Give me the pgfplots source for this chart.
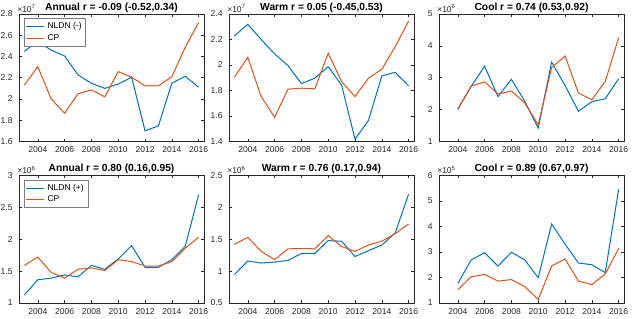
\documentclass[border=0pt]{standalone}
\usepackage{fontspec}
\setmainfont{Liberation Sans}
\usepackage{pgfplots}
\pgfplotsset{compat=1.18}
\definecolor{mblue}{rgb}{0,0.447,0.741}
\definecolor{morange}{rgb}{0.85,0.325,0.098}
\definecolor{axgray}{rgb}{0.15,0.15,0.15}
\tikzset{
  sclabel/.style={font=\fontsize{6.4}{7}\selectfont, text=axgray, anchor=south west, inner sep=0pt, xshift=-1.5pt, yshift=1.2pt},
}
\pgfplotsset{
  every axis title shift=0pt,
  mstyle/.style={
    scale only axis, width=138.75pt, height=95.6pt,
    xmin=2002.6, xmax=2016.4,
    xtick={2004,2006,...,2016},
    /pgf/number format/assume math mode=true,
    /pgf/number format/1000 sep={},
    tick align=inside,
    major tick length=2pt,
    tick style={axgray, line width=0.4pt},
    axis line style={axgray, line width=0.4pt},
    tick label style={font=\fontsize{6.4}{7}\selectfont, text=axgray},
    yticklabel style={xshift=-1.3pt},
    xticklabel style={yshift=-0.5pt},
    title style={font=\fontsize{7.7}{8.5}\selectfont\bfseries, at={(0.5,1)}, anchor=south, inner sep=1.2pt},
    every axis plot/.append style={line width=0.75pt, no marks},
    legend cell align=left,
    legend image code/.code={\draw[##1] (0pt,0pt) -- (14pt,0pt);},
    legend style={at={(rel axis cs:0.025,0.965)}, anchor=north west, draw=axgray!60, line width=0.4pt,
      font=\fontsize{6.4}{7}\selectfont, inner sep=1pt, row sep=-1.5pt, fill=white},
  },
  sc/.style={extra description/.code={\node[sclabel] at (rel axis cs:0,1) {×10\textsuperscript{#1}};}},
}
\begin{document}
\begin{tikzpicture}
\path[use as bounding box] (0,0) rectangle (474pt,238.5pt);
% ---------- Row 1 ----------
\begin{axis}[mstyle, sc=7, at={(14.25pt,132.4pt)}, anchor=south west,
  ymin=1.6, ymax=2.8, ytick={1.6,1.8,2,2.2,2.4,2.6,2.8},
  yticklabels={1.6,1.8,2,2.2,2.4,2.6,2.8},
  title={Annual r = -0.09 (-0.52,0.34)}]
\addplot[mblue] coordinates {(2003,2.45)(2004,2.54)(2005,2.46)(2006,2.405)(2007,2.227)(2008,2.148)(2009,2.10)(2010,2.14)(2011,2.205)(2012,1.70)(2013,1.747)(2014,2.148)(2015,2.214)(2016,2.11)};
\addlegendentry{NLDN (-)}
\addplot[morange] coordinates {(2003,2.13)(2004,2.305)(2005,2.0)(2006,1.866)(2007,2.048)(2008,2.086)(2009,2.02)(2010,2.258)(2011,2.205)(2012,2.123)(2013,2.123)(2014,2.21)(2015,2.487)(2016,2.72)};
\addlegendentry{CP}
\end{axis}
\begin{axis}[mstyle, sc=7, at={(171.75pt,132.4pt)}, anchor=south west,
  ymin=1.4, ymax=2.4, ytick={1.4,1.6,1.8,2,2.2,2.4},
  yticklabels={1.4,1.6,1.8,2,2.2,2.4},
  title={Warm r = 0.05 (-0.45,0.53)}]
\addplot[mblue] coordinates {(2003,2.228)(2004,2.319)(2005,2.20)(2006,2.087)(2007,1.995)(2008,1.854)(2009,1.896)(2010,1.987)(2011,1.841)(2012,1.418)(2013,1.564)(2014,1.914)(2015,1.943)(2016,1.836)};
\addplot[morange] coordinates {(2003,1.904)(2004,2.06)(2005,1.752)(2006,1.59)(2007,1.81)(2008,1.818)(2009,1.813)(2010,2.092)(2011,1.87)(2012,1.752)(2013,1.896)(2014,1.967)(2015,2.144)(2016,2.345)};
\end{axis}
\begin{axis}[mstyle, sc=6, at={(329.25pt,132.4pt)}, anchor=south west,
  ymin=1, ymax=5, ytick={1,2,3,4,5},
  title={Cool r = 0.74 (0.53,0.92)}]
\addplot[mblue] coordinates {(2004,2.0)(2005,2.73)(2006,3.36)(2007,2.41)(2008,2.95)(2009,2.26)(2010,1.42)(2011,3.49)(2012,2.76)(2013,1.95)(2014,2.25)(2015,2.34)(2016,2.97)};
\addplot[morange] coordinates {(2004,2.02)(2005,2.74)(2006,2.87)(2007,2.49)(2008,2.58)(2009,2.21)(2010,1.52)(2011,3.32)(2012,3.68)(2013,2.52)(2014,2.31)(2015,2.88)(2016,4.26)};
\end{axis}
% ---------- Row 2 ----------
\begin{axis}[mstyle, sc=6, at={(14.25pt,11.25pt)}, anchor=south west,
  ymin=1, ymax=3, ytick={1,1.5,2,2.5,3},
  yticklabels={1,1.5,2,2.5,3},
  title={Annual r = 0.80 (0.16,0.95)}]
\addplot[mblue] coordinates {(2003,1.125)(2004,1.365)(2005,1.39)(2006,1.44)(2007,1.41)(2008,1.59)(2009,1.53)(2010,1.69)(2011,1.90)(2012,1.56)(2013,1.56)(2014,1.68)(2015,1.89)(2016,2.70)};
\addlegendentry{NLDN (+)}
\addplot[morange] coordinates {(2003,1.59)(2004,1.72)(2005,1.48)(2006,1.39)(2007,1.53)(2008,1.55)(2009,1.51)(2010,1.68)(2011,1.65)(2012,1.58)(2013,1.58)(2014,1.65)(2015,1.86)(2016,2.03)};
\addlegendentry{CP}
\end{axis}
\begin{axis}[mstyle, sc=6, at={(171.75pt,11.25pt)}, anchor=south west,
  ymin=0.5, ymax=2.5, ytick={0.5,1,1.5,2,2.5},
  yticklabels={0.5,1,1.5,2,2.5},
  title={Warm r = 0.76 (0.17,0.94)}]
\addplot[mblue] coordinates {(2003,0.945)(2004,1.158)(2005,1.127)(2006,1.142)(2007,1.168)(2008,1.277)(2009,1.277)(2010,1.479)(2011,1.469)(2012,1.23)(2013,1.32)(2014,1.41)(2015,1.60)(2016,2.21)};
\addplot[morange] coordinates {(2003,1.42)(2004,1.53)(2005,1.31)(2006,1.18)(2007,1.35)(2008,1.355)(2009,1.35)(2010,1.557)(2011,1.386)(2012,1.31)(2013,1.41)(2014,1.47)(2015,1.59)(2016,1.74)};
\end{axis}
\begin{axis}[mstyle, sc=5, at={(329.25pt,11.25pt)}, anchor=south west,
  ymin=1, ymax=6, ytick={1,2,3,4,5,6},
  title={Cool r = 0.89 (0.67,0.97)}]
\addplot[mblue] coordinates {(2004,1.76)(2005,2.69)(2006,2.97)(2007,2.45)(2008,2.99)(2009,2.69)(2010,1.99)(2011,4.10)(2012,3.31)(2013,2.57)(2014,2.50)(2015,2.19)(2016,5.46)};
\addplot[morange] coordinates {(2004,1.52)(2005,2.03)(2006,2.12)(2007,1.86)(2008,1.92)(2009,1.64)(2010,1.14)(2011,2.45)(2012,2.73)(2013,1.86)(2014,1.72)(2015,2.14)(2016,3.14)};
\end{axis}
\end{tikzpicture}
\end{document}
